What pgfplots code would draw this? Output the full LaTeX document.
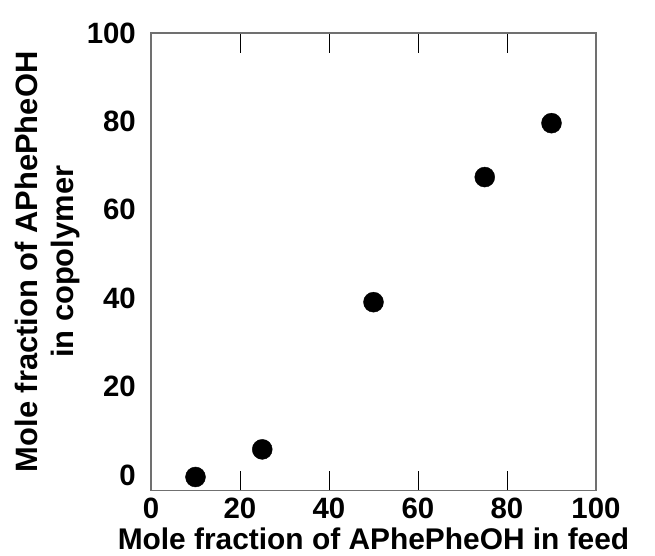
\documentclass[border=0pt]{standalone}
\usepackage{pgfplots}
\pgfplotsset{compat=1.18}
\usepackage{fontspec}
\setmainfont{Liberation Sans}
\begin{document}
\begin{tikzpicture}[x=1bp,y=1bp]
\begin{axis}[
  at={(0,0)}, anchor=south west,
  scale only axis, width=445bp, height=457.7bp,
  xmin=0, xmax=100, ymin=-3.55, ymax=100,
  xtick={0,20,40,60,80,100}, ytick={0,20,40,60,80,100},
  axis line style={draw=black!56, line width=1.2pt},
  tick align=inside,
  major tick length=20bp,
  x tick style={draw=black, line width=0.9pt},
  y tick style={draw=none},
  tick label style={font=\fontsize{29.5}{33}\selectfont\bfseries, inner sep=0pt},
  /pgf/number format/assume math mode=true,
  xticklabel style={anchor=north, yshift=-7bp},
  yticklabel style={anchor=east, xshift=-15bp},
  xlabel={Mole fraction of APhePheOH in feed},
  ylabel={Mole fraction of APhePheOH\\in copolymer},
  label style={inner sep=0pt},
  xlabel style={font=\fontsize{30}{36}\selectfont\bfseries, at={(axis description cs:0.5,0)}, anchor=base, yshift=-58.5bp},
  ylabel style={font=\fontsize{31}{36}\selectfont\bfseries, at={(axis description cs:-0.3056,0.5)}, anchor=north, align=center},
  clip=false,
]
\addplot[only marks, mark=*, mark size=10bp, mark options={fill=black, draw=black}]
coordinates {(10,-0.45) (25,5.8) (50,39.1) (75,67.4) (90,79.6)};
\end{axis}
\path (-151bp,-65.3bp) rectangle (504bp,490.7bp);
\end{tikzpicture}
\end{document}
